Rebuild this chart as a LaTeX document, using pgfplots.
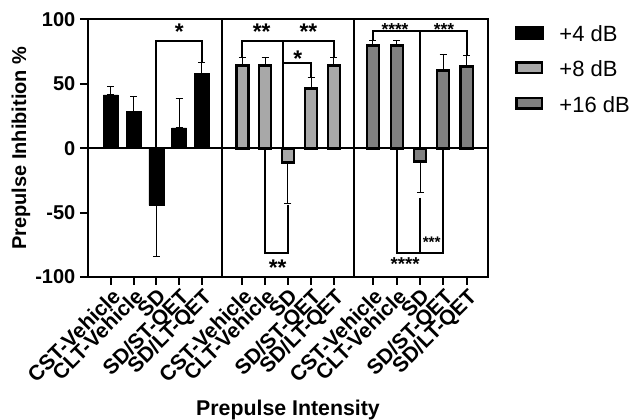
\documentclass[border=0pt]{standalone}
\usepackage{fontspec}
\setmainfont{Liberation Sans}
\usepackage{pgfplots}
\pgfplotsset{compat=1.18}
\definecolor{barLight}{HTML}{A8A8A8}
\definecolor{barDark}{HTML}{808080}

\tikzset{
  brk/.style={line width=1.5pt, black},
  stars/.style={font=\bfseries\fontsize{#1}{#1}\selectfont, inner sep=0pt, anchor=center, yshift={-0.21*#1pt}},
}

\begin{document}
\begin{tikzpicture}
\useasboundingbox (-66pt,-107.25pt) rectangle (405.75pt,207.75pt);
\begin{axis}[
  scale only axis, width=300pt, height=193.125pt,
  xmin=0, xmax=17.55, ymin=-100, ymax=100,
  axis line style={line width=1.5pt, black},
  ytick={-100,-50,0,50,100},
  xtick={1,2,3,4,5,6.77,7.77,8.77,9.79,10.79,12.5,13.55,14.57,15.58,16.62},
  xticklabels={CST-Vehicle,CLT-Vehicle,SD,SD/ST-QET,SD/LT-QET,
               CST-Vehicle,CLT-Vehicle,SD,SD/ST-QET,SD/LT-QET,
               CST-Vehicle,CLT-Vehicle,SD,SD/ST-QET,SD/LT-QET},
  xticklabel style={rotate=45, anchor=north east, inner sep=1pt,
    font=\bfseries\fontsize{15.8}{15.8}\selectfont},
  yticklabel style={font=\bfseries\fontsize{15}{15}\selectfont},
  /pgf/number format/assume math mode=true,
  tick align=outside, tick pos=left, major tick length=6pt,
  tick style={line width=1.5pt, black},
  xlabel={Prepulse Intensity},
  ylabel={Prepulse Inhibition \%},
  every axis x label/.style={at={(axis description cs:0.5,-0.536)}, anchor=base,
    font=\bfseries\fontsize{16}{16}\selectfont},
  every axis y label/.style={at={(axis description cs:-0.1675,0.5)}, rotate=90, anchor=center,
    font=\bfseries\fontsize{15}{15}\selectfont},
  legend cell align=left,
  legend style={draw=none, fill=none, at={(rel axis cs:1,1)}, anchor=north west,
    xshift=20pt, yshift=-2pt, inner sep=0pt, row sep=9.2pt,
    font=\fontsize{16.5}{16.5}\selectfont,
    /tikz/every even column/.append style={column sep=0pt},
    /tikz/every odd column/.append style={column sep=10pt}},
  clip=false,
]
% +4 dB
\addplot[ybar, bar shift=0pt, bar width=0.66, fill=black, draw=black,
  legend image code/.code={\draw[fill=black, draw=black] (0pt,-3.6pt) rectangle (21pt,6.2pt);},
  error bars/.cd, y dir=both, y explicit,
  error bar style={line width=0.75pt, black},
  error mark options={rotate=90, mark size=2.6pt, line width=0.75pt, black}]
  coordinates {
  (1,41.4) += (0,6.8) -= (0,0)
  (2,28.5) += (0,11.9) -= (0,0)
  (3,-44.3) += (0,0) -= (0,40.1)
  (4,15.8) += (0,22.8) -= (0,0)
  (5,58.0) += (0,8.3) -= (0,0)
  };
\addlegendentry{+4 dB}
% +8 dB
\addplot[ybar, bar shift=0pt, bar width=0.53, fill=barLight, draw=black, line width=1.9pt,
  legend image code/.code={\draw[fill=barLight, draw=black, line width=1.9pt] (1pt,-2.7pt) rectangle (20pt,5.3pt);},
  error bars/.cd, y dir=both, y explicit,
  error bar style={line width=0.75pt, black},
  error mark options={rotate=90, mark size=2.6pt, line width=0.75pt, black}]
  coordinates {
  (6.77,64.1) += (0,6.0) -= (0,0)
  (7.77,64.1) += (0,6.0) -= (0,0)
  (8.77,-11.0) += (0,0) -= (0,32.0)
  (9.79,46.2) += (0,8.4) -= (0,0)
  (10.79,64.1) += (0,6.0) -= (0,0)
  };
\addlegendentry{+8 dB}
% +16 dB
\addplot[ybar, bar shift=0pt, bar width=0.53, fill=barDark, draw=black, line width=1.9pt,
  legend image code/.code={\draw[fill=barDark, draw=black, line width=1.9pt] (1pt,-2.7pt) rectangle (20pt,5.3pt);},
  error bars/.cd, y dir=both, y explicit,
  error bar style={line width=0.75pt, black},
  error mark options={rotate=90, mark size=2.6pt, line width=0.75pt, black}]
  coordinates {
  (12.5,79.6) += (0,4.3) -= (0,0)
  (13.55,79.6) += (0,3.7) -= (0,0)
  (14.57,-10.5) += (0,0) -= (0,23.9)
  (15.58,60.2) += (0,12.8) -= (0,0)
  (16.62,63.3) += (0,8.7) -= (0,0)
  };
\addlegendentry{+16 dB}

% zero line and panel dividers
\draw[line width=1.5pt] (axis cs:0,0) -- (axis cs:17.55,0);
\draw[line width=1.5pt] (axis cs:5.875,-100) -- (axis cs:5.875,100);
\draw[line width=1.5pt] (axis cs:11.675,-100) -- (axis cs:11.675,100);

% significance brackets, panel 1
\draw[brk] (axis cs:3,0) -- (axis cs:3,83.3) -- (axis cs:5,83.3) -- (axis cs:5,66.3);
\node[stars=17] at (axis cs:4,94.2) {*};
% panel 2
\draw[brk] (axis cs:6.77,70.1) -- (axis cs:6.77,83.1) -- (axis cs:10.79,83.1) -- (axis cs:10.79,70.1);
\draw[brk] (axis cs:8.57,83.1) -- (axis cs:8.57,0);
\draw[brk] (axis cs:8.57,66.4) -- (axis cs:9.79,66.4) -- (axis cs:9.79,54.6);
\draw[brk] (axis cs:7.77,0) -- (axis cs:7.77,-81.6) -- (axis cs:8.77,-81.6) -- (axis cs:8.77,-44);
\node[stars=17] at (axis cs:7.62,94.2) {**};
\node[stars=17] at (axis cs:9.67,94.2) {**};
\node[stars=17] at (axis cs:9.2,73) {*};
\node[stars=17] at (axis cs:8.32,-89.1) {**};
% panel 3
\draw[brk] (axis cs:12.5,83.9) -- (axis cs:12.5,90.9) -- (axis cs:16.62,90.9) -- (axis cs:16.62,72.0);
\draw[brk] (axis cs:14.57,90.9) -- (axis cs:14.57,0);
\draw[brk] (axis cs:13.55,0) -- (axis cs:13.55,-81) -- (axis cs:15.58,-81) -- (axis cs:15.58,0);
\draw[brk] (axis cs:14.57,-38.3) -- (axis cs:14.57,-81);
\node[stars=13] at (axis cs:13.47,95) {****};
\node[stars=13] at (axis cs:15.62,95) {***};
\node[stars=11.5] at (axis cs:15.08,-70.7) {***};
\node[stars=14] at (axis cs:13.91,-87) {****};
\end{axis}
\end{tikzpicture}
\end{document}
